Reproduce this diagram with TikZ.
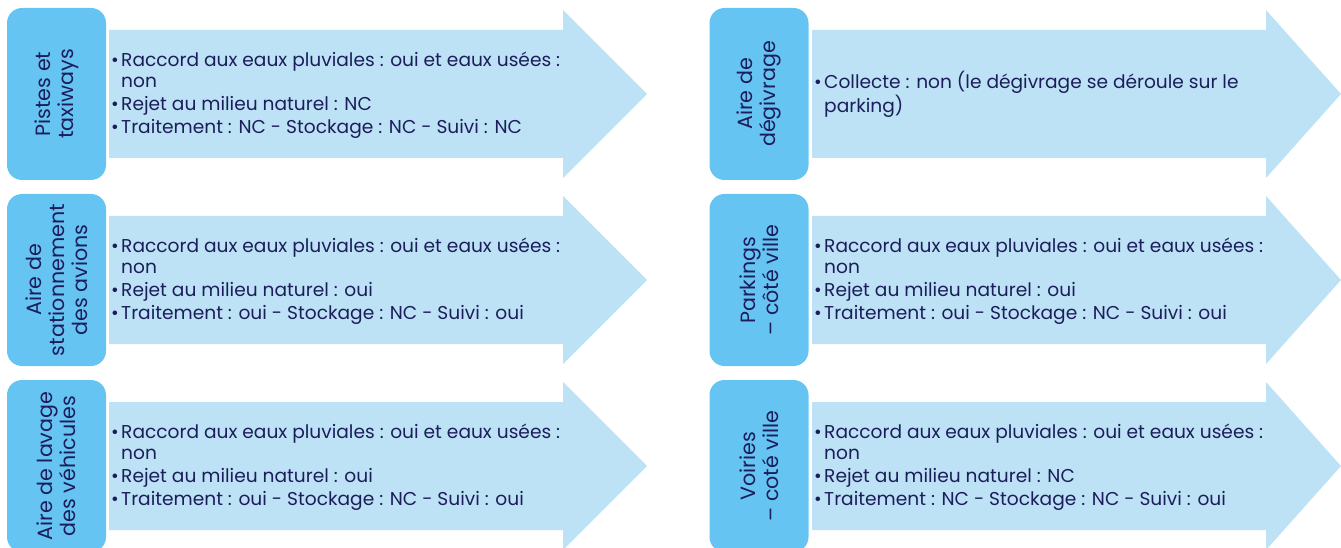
\documentclass[tikz,border=0pt]{standalone}
\usepackage{fontspec}
\setmainfont{Poppins}
\definecolor{boxblue}{HTML}{66C4F2}
\definecolor{arrowblue}{HTML}{BDE2F5}
\definecolor{navy}{HTML}{1C1E5C}
\newlength\reflenA
\newlength\reflenB
\newcommand\bul{\makebox[10pt][l]{•}}
\newcommand\ind{\hspace*{10pt}}
\newcommand\arrowshape[4]{% left x, top y, head x, tip x
  \fill[arrowblue] (#1,#2+22) -- (#3,#2+22) -- (#3,#2+2) -- (#4,#2+86)
    -- (#3,#2+170) -- (#3,#2+150) -- (#1,#2+150) -- cycle;}
\begin{document}
\settowidth\reflenA{\fontsize{10pt}{12pt}\selectfont Raccord aux eaux pluviales : oui et eaux usées :}%
\settowidth\reflenB{\fontsize{10pt}{12pt}\selectfont stationnement}%
\pgfmathsetmacro\bsz{10*439/\reflenA}%
\pgfmathsetmacro\bbl{\bsz*1.1}%
\pgfmathsetmacro\csz{10*152/\reflenB}%
\pgfmathsetmacro\cbl{\csz*1.12}%
\begin{tikzpicture}[x=1pt,y=-1pt]
\tikzset{
  catbox/.style={fill=boxblue, rounded corners=15pt, rotate=90,
    minimum width=172pt, minimum height=99pt, inner sep=0pt, align=center,
    text=navy, font=\fontsize{\csz pt}{\cbl pt}\selectfont},
  bodytext/.style={anchor=west, inner sep=0pt, align=left, text=navy,
    font=\fontsize{\bsz pt}{\bbl pt}\selectfont}
}
\useasboundingbox (0,0) rectangle (1341,548);
% arrows
\arrowshape{109}{8}{563}{647}
\arrowshape{109}{194}{563}{647}
\arrowshape{109}{380}{563}{647}
\arrowshape{812}{8}{1266}{1341}
\arrowshape{812}{194}{1266}{1341}
\arrowshape{812}{380}{1266}{1341}
% category boxes
\node[catbox] (b1) at (56.5,94) {Pistes et\\taxiways};
\node[catbox] (b2) at (56.5,280) {Aire de\\stationnement\\des avions};
\node[catbox] (b3) at (56.5,466) {Aire de lavage\\des véhicules};
\node[catbox] (b4) at (759,94) {Aire de\\dégivrage};
\node[catbox] (b5) at (759,280) {Parkings\\– côté ville};
\node[catbox] (b6) at (759,466) {Voiries\\– coté ville};
% texts
\node[bodytext] (t1) at (111,95.5) {\bul Raccord aux eaux pluviales : oui et eaux usées :\\\ind non\\[3pt]\bul Rejet au milieu naturel : NC\\[3pt]\bul Traitement : NC - Stockage : NC - Suivi : NC};
\node[bodytext] (t2) at (111,281.5) {\bul Raccord aux eaux pluviales : oui et eaux usées :\\\ind non\\[3pt]\bul Rejet au milieu naturel : oui\\[3pt]\bul Traitement : oui - Stockage : NC - Suivi : oui};
\node[bodytext] (t3) at (111,467.5) {\bul Raccord aux eaux pluviales : oui et eaux usées :\\\ind non\\[3pt]\bul Rejet au milieu naturel : oui\\[3pt]\bul Traitement : oui - Stockage : NC - Suivi : oui};
\node[bodytext] (t4) at (814,94.5) {\bul Collecte : non (le dégivrage se déroule sur le\\\ind parking)};
\node[bodytext] (t5) at (814,281.5) {\bul Raccord aux eaux pluviales : oui et eaux usées :\\\ind non\\[3pt]\bul Rejet au milieu naturel : oui\\[3pt]\bul Traitement : oui - Stockage : NC - Suivi : oui};
\node[bodytext] (t6) at (814,467.5) {\bul Raccord aux eaux pluviales : oui et eaux usées :\\\ind non\\[3pt]\bul Rejet au milieu naturel : NC\\[3pt]\bul Traitement : NC - Stockage : NC - Suivi : oui};
\end{tikzpicture}
\end{document}
